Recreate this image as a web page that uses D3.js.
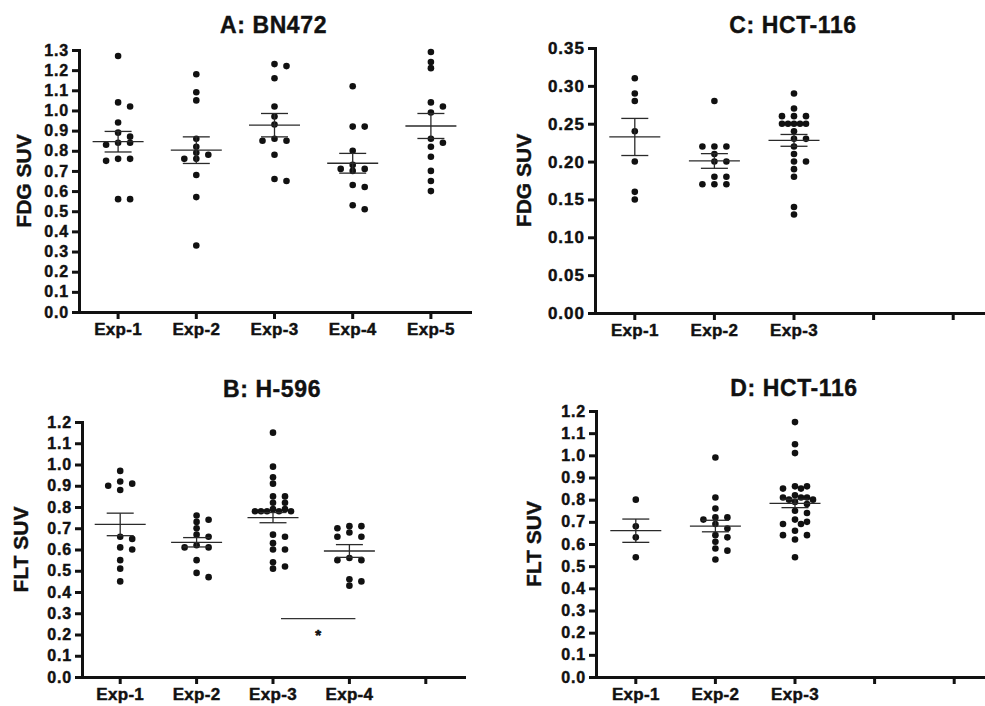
<!DOCTYPE html>
<html><head><meta charset="utf-8">
<script src="https://cdn.jsdelivr.net/npm/d3@7"></script>
<style>
body{margin:0;background:#fff}
svg{display:block}
text{font-family:"Liberation Sans",Arial,sans-serif;font-weight:bold;fill:#111}
</style>
</head><body>
<svg id="chart" width="985" height="706"></svg>
<script>
// ---------- DATA ----------
// Panel A: BN472, FDG SUV
const titleA = "A: BN472";
const slotsA = ["Exp-1","Exp-2","Exp-3","Exp-4","Exp-5"];
const yTicksA = [0,0.1,0.2,0.3,0.4,0.5,0.6,0.7,0.8,0.9,1.0,1.1,1.2,1.3];
const A_exp1 = [1.27,1.04,1.02,0.94,0.89,0.87,0.84,0.84,0.83,0.76,0.76,0.75,0.56,0.56];
const A_exp2 = [1.18,1.09,1.05,0.86,0.82,0.79,0.78,0.76,0.76,0.68,0.57,0.33];
const A_exp3 = [1.23,1.22,1.16,1.02,0.97,0.93,0.86,0.85,0.85,0.78,0.66,0.65];
const A_exp4 = [1.12,0.92,0.92,0.80,0.73,0.71,0.71,0.70,0.63,0.62,0.53,0.51];
const A_exp5 = [1.29,1.24,1.21,1.04,1.02,0.99,0.86,0.84,0.82,0.77,0.70,0.65,0.60];
const meanA = [0.845,0.803,0.927,0.738,0.923];
const semA  = [0.051,0.066,0.058,0.049,0.062];

// Panel C: HCT-116, FDG SUV
const titleC = "C: HCT-116";
const slotsC = ["Exp-1","Exp-2","Exp-3","",""];
const yTicksC = [0,0.05,0.10,0.15,0.20,0.25,0.30,0.35];
const C_exp1 = [0.31,0.29,0.28,0.24,0.20,0.16,0.15];
const C_exp2 = [0.28,0.22,0.22,0.22,0.21,0.20,0.20,0.18,0.18,0.17,0.17,0.17];
const C_exp3 = [0.29,0.27,0.26,0.26,0.26,0.25,0.25,0.25,0.25,0.25,0.24,0.23,0.23,0.22,0.21,0.20,0.20,0.19,0.18,0.14,0.13];
const meanC = [0.2325,0.2008,0.228];
const semC  = [0.0245,0.0097,0.0078];

// Panel B: H-596, FLT SUV
const titleB = "B: H-596";
const slotsB = ["Exp-1","Exp-2","Exp-3","Exp-4",""];
const yTicksB = [0,0.1,0.2,0.3,0.4,0.5,0.6,0.7,0.8,0.9,1.0,1.1,1.2];
const B_exp1 = [0.97,0.92,0.91,0.90,0.88,0.66,0.65,0.61,0.60,0.55,0.51,0.45];
const B_exp2 = [0.76,0.74,0.73,0.70,0.67,0.66,0.62,0.61,0.61,0.55,0.49,0.47];
const B_exp3 = [1.15,0.99,0.94,0.91,0.85,0.85,0.82,0.82,0.79,0.79,0.78,0.78,0.78,0.78,0.78,0.67,0.66,0.63,0.60,0.60,0.54,0.52,0.51];
const B_exp4 = [0.71,0.71,0.70,0.68,0.66,0.66,0.56,0.55,0.55,0.46,0.45,0.43];
const meanB = [0.718,0.634,0.750,0.593];
const semB  = [0.053,0.022,0.024,0.030];
const sigPairB = [2,3];      // Exp-3 vs Exp-4
const sigLevelB = 0.275;
const sigLabelB = "*";

// Panel D: HCT-116, FLT SUV
const titleD = "D: HCT-116";
const slotsD = ["Exp-1","Exp-2","Exp-3","",""];
const yTicksD = [0,0.1,0.2,0.3,0.4,0.5,0.6,0.7,0.8,0.9,1.0,1.1,1.2];
const D_exp1 = [0.80,0.68,0.63,0.54];
const D_exp2 = [0.99,0.81,0.76,0.72,0.72,0.71,0.69,0.67,0.64,0.63,0.61,0.58,0.57,0.53];
const D_exp3 = [1.15,1.05,1.01,0.86,0.86,0.85,0.85,0.82,0.81,0.81,0.81,0.80,0.80,0.79,0.78,0.75,0.74,0.71,0.70,0.69,0.69,0.66,0.64,0.64,0.62,0.54];
const meanD = [0.660,0.681,0.783];
const semD  = [0.0525,0.026,0.019];

// ---------- LAYOUT ----------
const panels = [
  {title:titleA, yLabel:"FDG SUV", slots:slotsA, ticks:yTicksA, fmt:".1f", groups:[A_exp1,A_exp2,A_exp3,A_exp4,A_exp5], mean:meanA, sem:semA,
   x0:79, x1:470, yb:312, yt:50, titleY:33, labelX:31, tickFont:16, tickLS:0.8, labelFont:21},
  {title:titleC, yLabel:"FDG SUV", slots:slotsC, ticks:yTicksC, fmt:".2f", groups:[C_exp1,C_exp2,C_exp3], mean:meanC, sem:semC,
   x0:595, x1:993, yb:313, yt:48, titleY:33, labelX:531, tickFont:17, tickLS:1, labelFont:21},
  {title:titleB, yLabel:"FLT SUV", slots:slotsB, ticks:yTicksB, fmt:".1f", groups:[B_exp1,B_exp2,B_exp3,B_exp4], mean:meanB, sem:semB,
   x0:82, x1:464, yb:677, yt:422, titleY:397, labelX:28, tickFont:16, tickLS:0.8, labelFont:21,
   sig:{pair:sigPairB, level:sigLevelB, label:sigLabelB}},
  {title:titleD, yLabel:"FLT SUV", slots:slotsD, ticks:yTicksD, fmt:".1f", groups:[D_exp1,D_exp2,D_exp3], mean:meanD, sem:semD,
   x0:596, x1:994, yb:677, yt:411, titleY:396, labelX:541, tickFont:16, tickLS:0.8, labelFont:21}
];

const svg = d3.select("#chart");
svg.append("rect").attr("width",985).attr("height",706).attr("fill","#fff");

const R = 3.3;
const OFFSETS = [0,12,-12,6,-6,18,-18,3,-3,9,-9,15,-15,21,-21];

function swarm(vals, y, cx){
  const sorted = vals.slice().sort((a,b)=>b-a);
  const placed = [];
  sorted.forEach(v=>{
    const py = y(v);
    let chosen = null;
    for(const off of OFFSETS){
      const px = cx+off;
      if(placed.every(p=>Math.hypot(p.x-px,p.y-py)>=2*R*0.88)){chosen=px;break;}
    }
    if(chosen===null) chosen = cx;
    placed.push({x:chosen,y:py,v});
  });
  return placed;
}

panels.forEach(cfg=>{
  const g = svg.append("g");
  const y = d3.scaleLinear().domain([cfg.ticks[0], cfg.ticks[cfg.ticks.length-1]]).range([cfg.yb, cfg.yt]);
  const x = d3.scaleBand().domain(d3.range(cfg.slots.length)).range([cfg.x0, cfg.x1]);
  const cx = i => x(i) + x.bandwidth()/2;

  const xa = g.append("g").attr("transform",`translate(0,${cfg.yb})`)
    .call(d3.axisBottom(x).tickFormat(i=>cfg.slots[i]).tickSize(7).tickSizeOuter(0).tickPadding(4));
  const ya = g.append("g").attr("transform",`translate(${cfg.x0},0)`)
    .call(d3.axisLeft(y).tickValues(cfg.ticks).tickFormat(d3.format(cfg.fmt)).tickSize(7).tickSizeOuter(0).tickPadding(3));
  [xa,ya].forEach(a=>{
    a.select(".domain").attr("stroke","#111").attr("stroke-width",3).attr("stroke-linecap","square");
    a.selectAll(".tick line").attr("stroke","#111").attr("stroke-width",3);
    a.selectAll("text").attr("fill","#111").attr("stroke","#111").attr("stroke-width",0.45)
      .style("font-family",'"Liberation Sans",Arial,sans-serif').style("font-weight","bold");
  });
  xa.selectAll("text").style("font-size","17px").style("letter-spacing","0.3px");
  ya.selectAll("text").style("font-size",cfg.tickFont+"px").style("letter-spacing",cfg.tickLS+"px");

  cfg.groups.forEach((vals,i)=>{
    const pts = swarm(vals,y,cx(i));
    g.append("g").selectAll("circle").data(pts).join("circle")
      .attr("cx",d=>d.x).attr("cy",d=>d.y).attr("r",R).attr("fill","#111");
  });

  cfg.mean.forEach((m,i)=>{
    const c = cx(i), s = cfg.sem[i];
    const lg = g.append("g").attr("stroke","#2a2a2a").attr("stroke-width",1.3);
    lg.append("line").attr("x1",c-25.5).attr("x2",c+25.5).attr("y1",y(m)).attr("y2",y(m));
    lg.append("line").attr("x1",c).attr("x2",c).attr("y1",y(m-s)).attr("y2",y(m+s));
    lg.append("line").attr("x1",c-13.5).attr("x2",c+13.5).attr("y1",y(m+s)).attr("y2",y(m+s));
    lg.append("line").attr("x1",c-13.5).attr("x2",c+13.5).attr("y1",y(m-s)).attr("y2",y(m-s));
  });

  if(cfg.sig){
    const xa1 = cx(cfg.sig.pair[0])+8, xb1 = cx(cfg.sig.pair[1])+6;
    g.append("line").attr("x1",xa1).attr("x2",xb1).attr("y1",y(cfg.sig.level)).attr("y2",y(cfg.sig.level))
      .attr("stroke","#333").attr("stroke-width",1.2);
    g.append("text").attr("x",(xa1+xb1)/2).attr("y",y(cfg.sig.level)+21).attr("text-anchor","middle")
      .attr("stroke","#111").attr("stroke-width",0.6)
      .style("font-size","15px").text(cfg.sig.label);
  }

  g.append("text").attr("x",(cfg.x0+cfg.x1)/2 - 1).attr("y",cfg.titleY).attr("text-anchor","middle")
    .attr("stroke","#111").attr("stroke-width",0.4)
    .style("font-size","23px").style("letter-spacing","0.6px").text(cfg.title);
  g.append("text").attr("transform",`translate(${cfg.labelX},${(cfg.yb+cfg.yt)/2}) rotate(-90)`)
    .attr("stroke","#111").attr("stroke-width",0.4)
    .attr("text-anchor","middle").style("font-size",cfg.labelFont+"px").text(cfg.yLabel);
});
</script>
</body></html>
